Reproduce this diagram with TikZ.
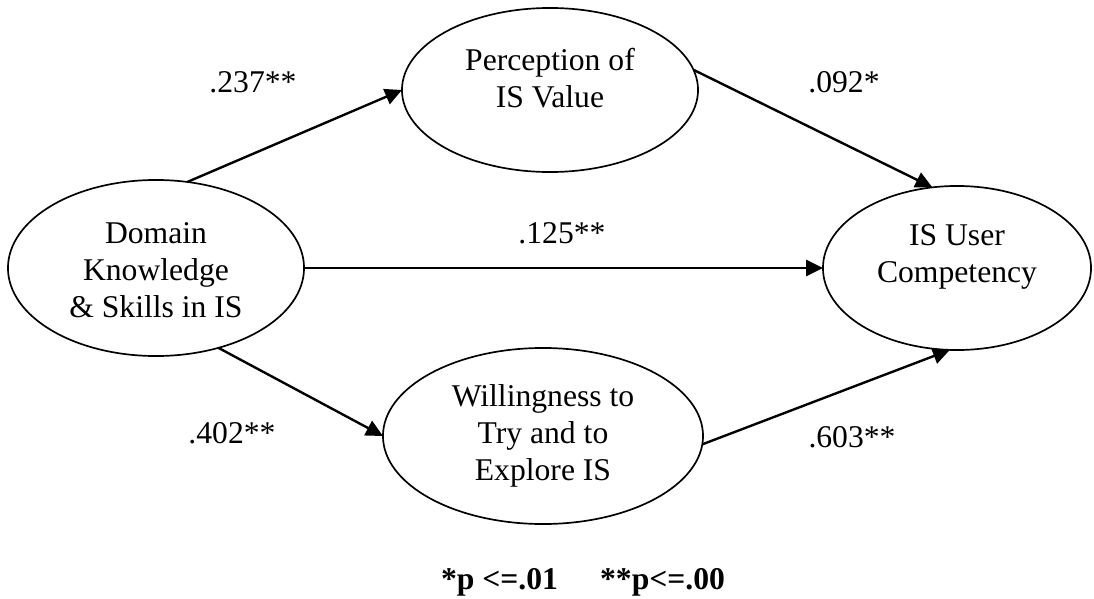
\documentclass[tikz,border=0pt]{standalone}
\usepackage{fontspec}
\setmainfont{Liberation Serif}
\usetikzlibrary{arrows.meta,shapes.geometric}
\tikzset{
  construct/.style={draw, ellipse, line width=1.2pt, inner sep=0pt, outer sep=0pt},
  constext/.style={align=center, font=\fontsize{22.5}{26.3}\selectfont},
  coef/.style={font=\fontsize{22.5}{26.3}\selectfont},
  effect/.style={line width=1.7pt, -{Triangle[length=12pt,width=11.5pt]}}
}

\begin{document}
\begin{tikzpicture}[x=0.025cm,y=-0.025cm]
\useasboundingbox (0,0) rectangle (1094,599);
% constructs
\node[construct, minimum width=7.4cm, minimum height=4.4cm] (dom) at (156,268) {};
\node[construct, minimum width=7.4cm, minimum height=4.1cm] (perc) at (550,90) {};
\node[construct, minimum width=6.7cm, minimum height=4.1cm] (comp) at (957,268) {};
\node[construct, minimum width=8cm, minimum height=4.4cm] (will) at (543,436) {};
\node[constext] (domtxt) at (156,270) {Domain\\Knowledge\\\& Skills in IS};
\node[constext] (perctxt) at (550,78) {Perception of\\IS Value};
\node[constext] (comptxt) at (957,257) {IS User\\Competency};
\node[constext] (willtxt) at (543,436) {Willingness to\\Try and to\\Explore IS};
% paths
\draw[effect] (dom.70) -- (perc.west);
\draw[effect] (perc.8) -- (comp.107);
\draw[effect] (dom.east) -- (comp.west);
\draw[effect] (dom.-52) -- (will.west);
\draw[effect] (will.-3) -- (comp.-95);
% coefficients
\node[coef] (c237) at (253,82) {.237**};
\node[coef] (c092) at (844,82) {.092*};
\node[coef] (c125) at (562,233) {.125**};
\node[coef] (c402) at (232,433) {.402**};
\node[coef] (c603) at (852,437) {.603**};
\node[coef, font=\fontsize{22.5}{26.3}\selectfont\bfseries] (sig) at (583,582) {*p <=.01\hspace{30pt}**p<=.00};
\end{tikzpicture}
\end{document}
